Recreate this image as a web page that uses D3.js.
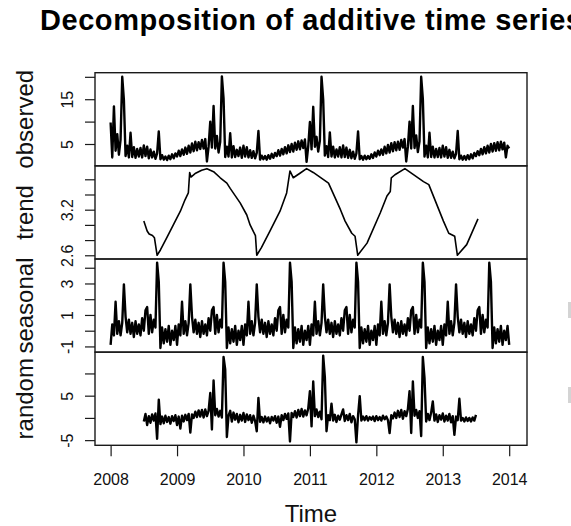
<!DOCTYPE html>
<html><head><meta charset="utf-8">
<script src="https://cdn.jsdelivr.net/npm/d3@7"></script>
<style>body{margin:0;background:#fff}svg{display:block}</style>
</head><body><svg id="c" width="571" height="526"></svg>
<script>
const titleText = "Decomposition of additive time series";
const xLabel = "Time";
const panelNames = ["observed", "trend", "seasonal", "random"];
const xTicks = [2008, 2009, 2010, 2011, 2012, 2013, 2014];
const step = 1 / 40;

const observedStart = 2008.0;
const observed = [
 9.8,2.0,13.4,3.5,7.2,2.6,6.0,20.0,14.8,2.3,4.6,2.0,7.5,2.1,4.3,1.9,3.9,2.2,4.1,2.0,4.7,2.3,4.4,1.8,3.8,2.0,3.3,1.7,2.9,7.8,1.6,2.5,1.5,2.2,1.4,2.4,1.6,2.7,1.8,2.9,2.2,3.5,2.3,3.8,2.6,4.2,2.8,4.6,3.1,5.1,3.4,5.5,3.6,5.4,3.9,5.9,4.0,6.1,1.1,4.4,
 10.0,4.2,13.5,4.0,6.8,3.1,5.5,20.1,15.2,2.1,4.4,2.2,7.4,2.0,4.5,2.1,3.7,2.3,4.2,1.9,4.6,2.2,4.3,2.0,3.6,1.9,3.4,1.8,3.0,7.9,1.5,2.4,1.6,2.3,1.5,2.5,1.7,2.8,1.9,3.0,2.3,3.6,2.4,3.9,2.7,4.3,2.9,4.7,3.2,5.0,3.3,5.3,3.7,5.6,3.8,5.8,4.1,6.0,1.0,4.5,
 9.9,3.8,13.3,4.4,6.6,3.3,5.7,20.0,14.9,2.4,4.5,2.1,7.6,2.2,4.4,2.0,3.8,2.2,4.3,2.0,4.7,2.1,4.2,1.9,3.7,1.8,3.3,1.7,2.9,7.8,1.6,2.3,1.5,2.4,1.6,2.3,1.7,2.7,1.9,3.1,2.2,3.5,2.5,3.8,2.6,4.4,2.9,4.8,3.1,5.2,3.4,5.4,3.6,5.5,3.7,5.9,4.2,6.1,1.1,4.4,
 10.0,4.0,13.5,4.1,6.9,3.2,5.6,20.0,15.1,2.2,4.6,2.0,7.5,2.1,4.4,2.0,3.9,2.1,4.1,2.0,4.6,2.2,4.3,1.9,3.7,1.9,3.3,1.8,2.8,7.9,1.6,2.4,1.5,2.3,1.5,2.5,1.6,2.7,1.8,3.0,2.3,3.4,2.5,3.9,2.7,4.3,2.9,4.6,3.1,5.0,3.3,5.2,3.5,5.4,3.6,5.5,3.8,5.3,2.0,4.6,
 4.0
];

const trendYears = [2008.50,2008.55,2008.58,2008.63,2008.66,2008.70,2008.75,2008.85,2008.95,2009.05,2009.12,2009.17,2009.19,2009.21,2009.28,2009.37,2009.45,2009.55,2009.65,2009.75,2009.80,2009.95,2010.05,2010.10,2010.15,2010.18,2010.20,2010.27,2010.40,2010.55,2010.65,2010.70,2010.75,2010.85,2010.95,2011.05,2011.20,2011.28,2011.46,2011.53,2011.63,2011.68,2011.72,2011.86,2012.06,2012.16,2012.21,2012.225,2012.28,2012.43,2012.71,2012.79,2013.01,2013.09,2013.18,2013.22,2013.36,2013.53];
const trendValues = [3.05,2.92,2.88,2.86,2.83,2.60,2.67,2.84,3.01,3.18,3.33,3.42,3.69,3.63,3.68,3.72,3.74,3.70,3.62,3.55,3.48,3.29,3.13,3.00,2.91,2.86,2.60,2.70,2.92,3.18,3.42,3.71,3.62,3.68,3.74,3.69,3.60,3.55,3.20,3.05,2.89,2.85,2.60,2.76,3.16,3.38,3.44,3.62,3.66,3.74,3.57,3.53,3.05,2.89,2.85,2.60,2.74,3.08];

const seasonalStart = 2008.0;
const seasonal = [
 -0.9,0.4,-0.3,1.84,-0.2,0.6,-0.3,0.5,2.94,0.9,-0.1,0.7,-0.2,0.5,-0.4,0.6,-0.2,0.4,-0.3,0.8,0.0,1.3,1.5,-0.2,1.0,-0.1,0.7,0.2,4.32,3.1,-1.1,0.2,-0.8,0.1,-0.7,0.3,-0.9,0.0,-0.6,0.3,
 -0.9,0.4,-0.3,1.84,-0.2,0.6,-0.3,0.5,2.94,0.9,-0.1,0.7,-0.2,0.5,-0.4,0.6,-0.2,0.4,-0.3,0.8,0.0,1.3,1.5,-0.2,1.0,-0.1,0.7,0.2,4.32,3.1,-1.1,0.2,-0.8,0.1,-0.7,0.3,-0.9,0.0,-0.6,0.3,
 -0.9,0.4,-0.3,1.84,-0.2,0.6,-0.3,0.5,2.94,0.9,-0.1,0.7,-0.2,0.5,-0.4,0.6,-0.2,0.4,-0.3,0.8,0.0,1.3,1.5,-0.2,1.0,-0.1,0.7,0.2,4.32,3.1,-1.1,0.2,-0.8,0.1,-0.7,0.3,-0.9,0.0,-0.6,0.3,
 -0.9,0.4,-0.3,1.84,-0.2,0.6,-0.3,0.5,2.94,0.9,-0.1,0.7,-0.2,0.5,-0.4,0.6,-0.2,0.4,-0.3,0.8,0.0,1.3,1.5,-0.2,1.0,-0.1,0.7,0.2,4.32,3.1,-1.1,0.2,-0.8,0.1,-0.7,0.3,-0.9,0.0,-0.6,0.3,
 -0.9,0.4,-0.3,1.84,-0.2,0.6,-0.3,0.5,2.94,0.9,-0.1,0.7,-0.2,0.5,-0.4,0.6,-0.2,0.4,-0.3,0.8,0.0,1.3,1.5,-0.2,1.0,-0.1,0.7,0.2,4.32,3.1,-1.1,0.2,-0.8,0.1,-0.7,0.3,-0.9,0.0,-0.6,0.3,
 -0.9,0.4,-0.3,1.84,-0.2,0.6,-0.3,0.5,2.94,0.9,-0.1,0.7,-0.2,0.5,-0.4,0.6,-0.2,0.4,-0.3,0.8,0.0,1.3,1.5,-0.2,1.0,-0.1,0.7,0.2,4.32,3.1,-1.1,0.2,-0.8,0.1,-0.7,0.3,-0.9,0.0,-0.6,0.3,
 -0.9
];

const randomStart = 2008.5;
const random = [
 -0.8,0.9,-1.6,0.4,-1.1,0.8,-0.6,1.0,-4.7,4.1,-1.4,0.3,-1.2,0.5,-0.9,0.2,-1.3,0.4,-0.7,0.6,
 -1.6,0.3,-2.4,0.5,-0.8,0.7,-0.5,0.9,-3.3,0.8,0.0,1.4,0.2,1.7,0.3,1.8,0.1,1.9,0.4,1.6,
 5.6,-2.6,8.4,0.6,2.0,0.3,1.6,0.1,13.7,10.9,-4.3,0.5,1.6,-0.8,1.2,-0.4,0.9,-1.0,0.7,-0.6,
 1.1,-0.9,0.8,-0.5,0.6,-1.1,0.5,-0.7,-3.0,4.5,-0.9,0.2,-1.0,0.3,-0.8,0.1,-1.2,0.2,-0.6,0.4,
 -1.1,0.3,-2.0,0.6,-0.5,0.9,-0.2,1.0,-5.3,1.1,0.2,1.5,0.1,1.8,0.4,2.0,0.3,1.7,0.6,2.1,
 6.0,-1.9,8.2,0.4,1.9,0.2,1.4,-0.3,14.0,9.2,-3.0,0.6,-0.5,3.2,-0.6,0.7,-0.9,0.5,-0.4,0.8,
 1.9,-0.7,0.6,-0.5,0.9,-1.0,0.4,-0.3,-5.5,0.6,4.9,-0.6,0.3,-0.5,0.4,-0.6,0.2,-0.4,0.3,-0.7,
 0.4,-0.5,0.2,-0.6,0.5,-0.3,0.3,-0.5,-3.4,0.6,-0.1,1.2,0.0,1.6,0.2,1.8,-0.2,1.5,0.4,2.0,
 6.0,-3.4,8.2,0.5,1.8,0.0,1.5,-4.1,13.7,9.0,-0.8,0.9,-0.5,1.2,3.7,-0.6,0.8,-0.9,0.6,-0.4,
 1.0,-0.8,0.5,-0.6,0.9,-1.0,0.4,-3.8,0.3,-0.5,4.3,-0.6,0.0,-0.8,0.1,-0.7,0.0,-0.8,0.1,-0.6,
 0.7
];

const yTicks = [[5,10,15,20],[2.6,2.8,3.0,3.2,3.4,3.6],[-1,0,1,2,3,4],[-5,0,5,10]];
const yTickLabels = [[5,15],[2.6,3.2],[-1,1,3],[-5,5]];
const yDomains = [[0.12,20.92],[2.551,3.777],[-1.363,4.555],[-6.16,14.79]];
const lineWidths = [2.4, 1.6, 2.4, 2.4];

const svg = d3.select("#c");
const font = "'Liberation Sans', Arial, Helvetica, sans-serif";
const L = 95, R = 527, T = 72.7, B = 445.3;
const ph = (B - T) / 4;

const x = d3.scaleLinear().domain([2007.765, 2014.268]).range([L, R]);

svg.append("text").attr("x", 311).attr("y", 30).attr("text-anchor", "middle")
  .attr("font-family", font).attr("font-weight", "bold").attr("font-size", 29)
  .attr("textLength", 542).attr("lengthAdjust", "spacing").text(titleText);

const series = [
  observed.map((v, i) => [observedStart + i * step, v]),
  trendYears.map((t, i) => [t, trendValues[i]]),
  seasonal.map((v, i) => [seasonalStart + i * step, v]),
  random.map((v, i) => [randomStart + i * step, v])
];

for (let p = 0; p < 4; p++) {
  const top = T + p * ph, bot = top + ph;
  const y = d3.scaleLinear().domain(yDomains[p]).range([bot, top]);
  const g = svg.append("g");
  const line = d3.line().x(d => x(d[0])).y(d => y(d[1]));
  g.append("path").datum(series[p]).attr("d", line).attr("fill", "none")
    .attr("stroke", "#000").attr("stroke-width", lineWidths[p]).attr("stroke-linejoin", "round");
  g.append("rect").attr("x", L).attr("y", top).attr("width", R - L).attr("height", ph)
    .attr("fill", "none").attr("stroke", "#1a1a1a").attr("stroke-width", 1.4);
  const ax = svg.append("g").attr("transform", `translate(${L},0)`)
    .call(d3.axisLeft(y).tickValues(yTicks[p]).tickSize(10)
      .tickFormat(d => yTickLabels[p].includes(d) ? String(d) : ""));
  ax.select(".domain").remove();
  ax.selectAll("line").attr("stroke", "#1a1a1a").attr("stroke-width", 1.2);
  ax.selectAll("text").attr("transform", "rotate(-90)").attr("x", 0).attr("y", -21.8)
    .attr("dy", 0).attr("text-anchor", "middle").attr("font-family", font)
    .attr("font-size", 16).attr("fill", "#111");
  svg.append("text").attr("transform", `translate(32.5,${(top + bot) / 2}) rotate(-90)`)
    .attr("text-anchor", "middle").attr("font-family", font).attr("font-size", 24)
    .attr("fill", "#111").text(panelNames[p]);
}

const xa = svg.append("g").attr("transform", `translate(0,${B})`)
  .call(d3.axisBottom(x).tickValues(xTicks).tickSize(11).tickFormat(d3.format("d")));
xa.select(".domain").remove();
xa.selectAll("line").attr("stroke", "#1a1a1a").attr("stroke-width", 1.2);
xa.selectAll("text").attr("y", 39.4).attr("dy", 0).attr("font-family", font)
  .attr("font-size", 16).attr("fill", "#111");

svg.append("text").attr("x", 311).attr("y", 521.5).attr("text-anchor", "middle")
  .attr("font-family", font).attr("font-size", 24).attr("fill", "#111").text(xLabel);

svg.append("rect").attr("x", 568).attr("y", 302).attr("width", 3).attr("height", 16).attr("fill", "#d4d4d4");
svg.append("rect").attr("x", 568).attr("y", 387).attr("width", 3).attr("height", 16).attr("fill", "#d4d4d4");
</script></body></html>
